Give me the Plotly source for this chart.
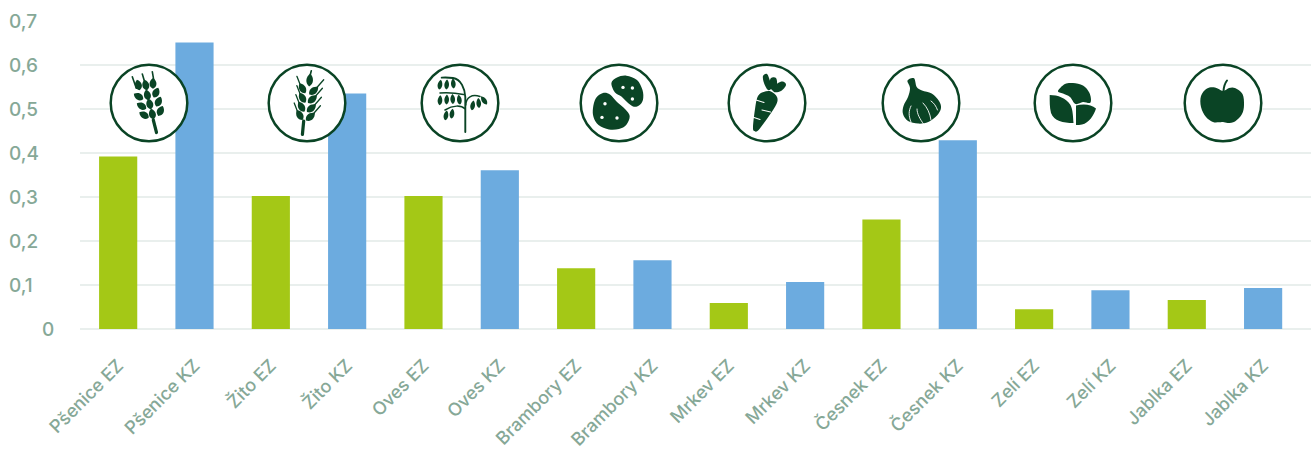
import base64
import plotly.graph_objects as go

# Residue values per crop; EZ and KZ alternate along the axis
categories = ["Pšenice EZ", "Pšenice KZ", "Žito EZ", "Žito KZ", "Oves EZ", "Oves KZ",
              "Brambory EZ", "Brambory KZ", "Mrkev EZ", "Mrkev KZ", "Česnek EZ", "Česnek KZ",
              "Zelí EZ", "Zelí KZ", "Jablka EZ", "Jablka KZ"]
values = [0.392, 0.651, 0.302, 0.535, 0.302, 0.361, 0.138, 0.156,
          0.059, 0.107, 0.249, 0.429, 0.045, 0.088, 0.066, 0.093]
y_ticks = [0, 0.1, 0.2, 0.3, 0.4, 0.5, 0.6, 0.7]
y_tick_labels = ["0", "0,1", "0,2", "0,3", "0,4", "0,5", "0,6", "0,7"]

GREEN = "#a4c816"
BLUE = "#6cabdf"
DARK = "#0a4425"
TEXT = "#86a897"
GRID = "#e9efed"
FONT = "Inter"
W, H = 1311, 450
L, T, B = 80, 21, 121


def smooth(pts):
    """Closed Catmull-Rom outline through the given points, as an SVG path."""
    n = len(pts)
    d = f"M{pts[0][0]},{pts[0][1]}"
    for i in range(n):
        p0, p1, p2, p3 = pts[i - 1], pts[i], pts[(i + 1) % n], pts[(i + 2) % n]
        c1 = (p1[0] + (p2[0] - p0[0]) / 6, p1[1] + (p2[1] - p0[1]) / 6)
        c2 = (p2[0] - (p3[0] - p1[0]) / 6, p2[1] - (p3[1] - p1[1]) / 6)
        d += f"C{c1[0]:.1f},{c1[1]:.1f} {c2[0]:.1f},{c2[1]:.1f} {p2[0]},{p2[1]}"
    return d + "Z"


def blob(pts, fill=DARK):
    return f'<path d="{smooth(pts)}" fill="{fill}"/>'


def grain(x, y, rot, w=3.6, h=5.6):
    d = f"M0,{-h}C{w},{-h*0.4} {w},{h*0.6} 0,{h}C{-w},{h*0.6} {-w},{-h*0.4} 0,{-h}Z"
    return f'<path d="{d}" fill="{DARK}" transform="translate({x},{y}) rotate({rot})"/>'


def line(x1, y1, x2, y2, w=1.3, color=DARK):
    return (f'<line x1="{x1}" y1="{y1}" x2="{x2}" y2="{y2}" stroke="{color}" '
            f'stroke-width="{w}" stroke-linecap="round"/>')


def curve(d, w=1.3, color=DARK):
    return f'<path d="{d}" fill="none" stroke="{color}" stroke-width="{w}" stroke-linecap="round"/>'


def dot(x, y, r=1.7):
    return f'<circle cx="{x}" cy="{y}" r="{r}" fill="white"/>'


def wheat():
    parts = [line(44.3, 57, 47.5, 69.5, 3.2)]
    for a in [(23.3, 13.7, 27.3, 25.3), (33.3, 11, 36, 20), (43.3, 8.7, 45, 18.7)]:
        parts.append(line(*a, 1.6))
    rows = [(29.3, 22, -15), (36.7, 22, -15), (44, 20.3, 0),
            (29.5, 33.5, -60), (38.3, 32, -15), (47, 29.7, 25),
            (32.5, 43, -60), (40.7, 41, -15), (49.5, 38.7, 25),
            (35, 52, -60), (43.3, 51, -15), (51.5, 48, 25)]
    parts += [grain(x, y, r, 4.6, 5.4) for x, y, r in rows]
    return "".join(parts)


def rye():
    parts = [line(36.7, 58, 35.4, 71.5, 3.2), grain(42.7, 17, 5, 4.4, 6.4), line(42.7, 14, 44.3, 7.7, 1.6)]
    for x, y in [(35.4, 25.3), (35.4, 34.7), (34.4, 43.7), (32.7, 52)]:
        parts.append(grain(x, y, -30, 4.4, 5.8))
        parts.append(line(x - 2, y - 3, x - 5.5, y - 12, 1.3))
    for x, y in [(46.7, 27.7), (45.4, 36.3), (44.4, 45.3), (43.4, 53.7)]:
        parts.append(grain(x, y, 50, 4.4, 5.8))
        parts.append(line(x + 3, y - 3, x + 10, y - 11, 1.3))
    return "".join(parts)


def oat():
    parts = [curve("M45.3,69L45.3,34C45,26 41,16 33,15C28,14.3 24,14.5 21.7,14.6", 1.9),
             curve("M45.3,46C41,42 33,42 25,47", 1.5),
             curve("M45.8,42C46,34 52,31 60,33.5", 1.5),
             curve("M43.5,31.5C36,30 28,29.5 20,30", 1.5)]
    for x, y, r in [(20, 21.6, 10), (26.7, 21.6, 5), (33.3, 20.6, -5),
                    (20, 37.3, 5), (26.7, 36.6, 3), (32.7, 36, -3), (39.3, 36.6, -8),
                    (26, 52.3, 10), (32, 50.6, 8),
                    (52.7, 42.3, 10), (58.7, 40, -5), (64, 37.3, -35)]:
        parts.append(grain(x, y, r, 3.1, 5))
    return "".join(parts)


def potato():
    return (blob([(32.4, 20), (38, 14.5), (47.4, 12.7), (58, 17), (63.5, 27), (64, 36.7),
                  (60, 42.5), (54, 43.4), (47.5, 38.5), (42.4, 33.4), (36, 29.5)]) +
            blob([(14, 45), (17, 35), (24, 30), (31, 31.5), (38, 39), (46, 46), (50.7, 53),
                  (47.4, 61.7), (40, 66), (30, 66.5), (19.5, 62), (14.5, 54)]) +
            "".join(dot(x, y) for x, y in [(44, 24.4), (53.4, 25), (53.4, 36),
                                           (26, 40.7), (23, 54.4), (38, 55)]))


def carrot():
    body = blob([(36.6, 29), (44, 28.5), (50, 34), (49.5, 41), (42, 53), (31.6, 67),
                 (27.5, 68), (26, 64), (28.3, 44), (31, 33)])
    leaves = (blob([(36, 13), (40, 11), (43, 18), (45, 24.5), (41, 27), (37, 20)]) +
              blob([(44, 15), (49, 15), (50, 22), (47, 28), (43.5, 25), (42.5, 20)]) +
              blob([(51, 20), (56, 18.5), (59, 22), (54, 28), (47, 29), (47, 25)]))
    slashes = (line(29, 37, 37, 39.5, 1.1, "white") + line(35, 47, 43.5, 49, 1.1, "white") +
               line(25.5, 54, 33, 56.5, 1.1, "white"))
    return leaves + body + slashes


def garlic():
    body = blob([(26.5, 17.5), (33, 15.3), (35.7, 24), (41, 27.5), (50.7, 30.6), (58, 38), (60, 45),
                 (56, 52.6), (47.3, 59), (37.3, 60.6), (27, 58), (22, 51), (22.5, 43), (27, 34), (29, 25)])
    cuts = (curve("M30,43C27.5,48 27.5,53 30,59", 0.9, "white") + curve("M36,46C36,51 39,56 42.5,61", 0.9, "white") +
            curve("M42,40C46,44 49,50 50,57", 0.9, "white") + curve("M50,38C53,40 55,43 56.5,47", 0.9, "white"))
    return body + cuts


def cabbage():
    return (blob([(25, 28), (32, 21), (40, 20), (50, 22.5), (56.5, 30), (57.5, 39.5),
                  (50, 39), (42.5, 41), (37, 34), (30, 30.5)]) +
            '<path d="M16.7,32C25,32 33,35 37.5,42C40,47 40,54 40.5,60C30,60 21,58 18,50C16.5,44 16.7,38 16.7,32Z" fill="%s"/>' % DARK +
            '<path d="M43,42.5C50,40.5 58,41 63,45.5C61,52 56,60 49,61.5C47,62 45,62 43,62Z" fill="%s"/>' % DARK)


def apple():
    body = blob([(40, 28), (32, 24.5), (24, 25.5), (18, 33), (18, 44), (23, 54), (30, 59), (36, 59.3),
                 (40, 59), (45, 60), (52, 58.5), (59, 51), (61, 42), (59.5, 31), (52, 25), (46, 25)])
    return body + curve("M40.5,28C40.8,24 42,20 44,17.5", 2)


def icon_uri(content):
    svg = ('<svg xmlns="http://www.w3.org/2000/svg" width="320" height="320" viewBox="0 0 80 80">'
           f'<circle cx="40" cy="40" r="38.3" fill="white" stroke="{DARK}" stroke-width="2.5"/>'
           f'{content}</svg>')
    return "data:image/svg+xml;base64," + base64.b64encode(svg.encode()).decode()


plot_w = W - L
plot_h = H - T - B
icons = [(149, wheat), (307, rye), (460, oat), (619, potato),
         (767, carrot), (921, garlic), (1073, cabbage), (1223, apple)]

fig = go.Figure(go.Bar(
    x=categories, y=values, width=0.5,
    marker=dict(color=[GREEN, BLUE] * 8, line_width=0),
    hoverinfo="x+y",
))

fig.update_layout(
    width=W, height=H, autosize=False,
    margin=dict(l=L, r=0, t=T, b=B, pad=0),
    plot_bgcolor="white", paper_bgcolor="white",
    showlegend=False,
    font=dict(family=FONT, color=TEXT, size=16),
    images=[dict(source=icon_uri(fn()), xref="paper", yref="paper",
                 x=(cx - L) / plot_w, y=(H - B - 103) / plot_h,
                 sizex=80 / plot_w, sizey=80 / plot_h, sizing="stretch",
                 xanchor="center", yanchor="middle", layer="above")
            for cx, fn in icons],
    # Value labels sit in their own column: the decimals line up further left than the zero
    annotations=[dict(text=t, xref="paper", yref="y", x=(7 - L) / plot_w if v else (40 - L) / plot_w,
                      y=v, xanchor="left", yanchor="middle", showarrow=False,
                      font=dict(family=FONT, size=19, color=TEXT, weight=500))
                 for v, t in zip(y_ticks, y_tick_labels)],
)
fig.update_xaxes(
    type="category", categoryorder="array", categoryarray=categories,
    range=[-0.5, plot_w / 76.33 - 0.5], automargin=False,
    tickangle=-45, showgrid=False, showline=False, zeroline=False,
    ticks="outside", ticklen=18, tickcolor="rgba(0,0,0,0)",
    tickfont=dict(family=FONT, size=18, color=TEXT, weight=500),
)
fig.update_yaxes(
    range=[0, 0.7], tickvals=y_ticks, showticklabels=False, automargin=False,
    gridcolor=GRID, gridwidth=2, zeroline=True, zerolinecolor=GRID, zerolinewidth=2,
    showline=False, ticks="",
)

fig.write_html("out.html")
